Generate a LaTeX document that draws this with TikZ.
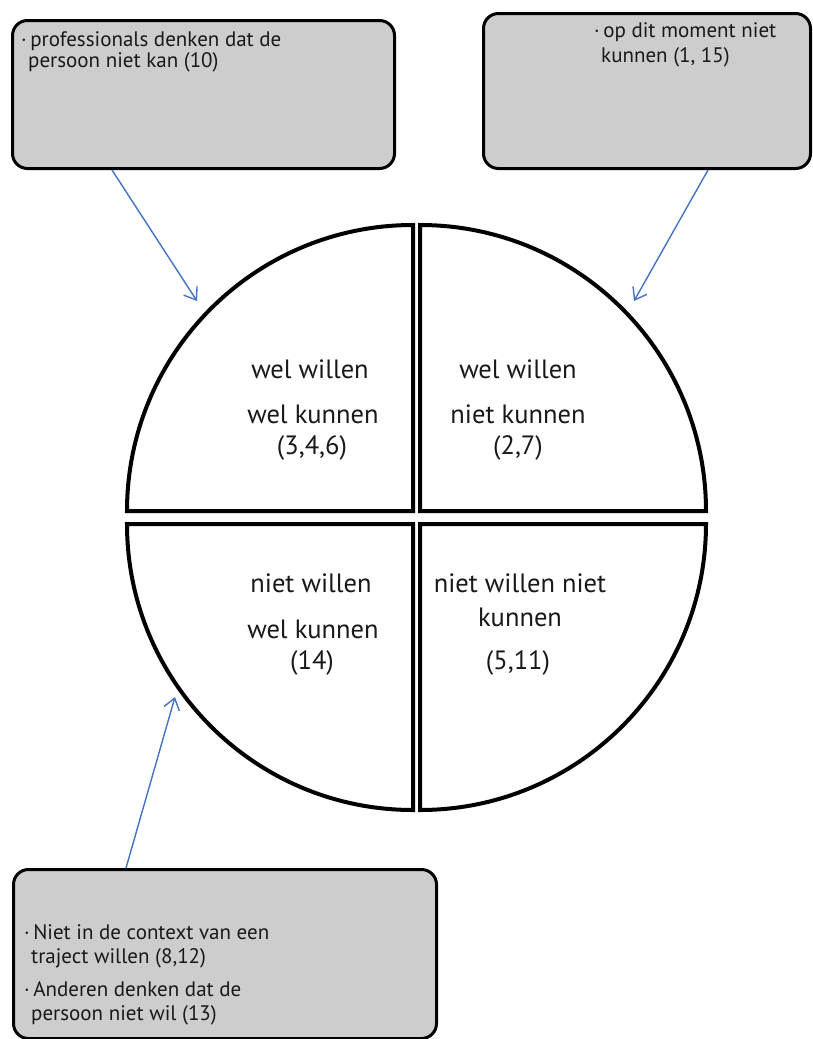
\documentclass[tikz,border=0pt]{standalone}
\usepackage{fontspec}
\setmainfont{PT Sans}
\usetikzlibrary{arrows.meta,calc}
\definecolor{boxgray}{RGB}{205,205,205}
\definecolor{arrowblue}{RGB}{68,114,196}
\tikzset{
  infobox/.style={draw=black, line width=3pt, fill=boxgray, rounded corners=15pt, anchor=north west, inner sep=0pt},
  quad/.style={draw=black, line width=4pt, fill=white, line join=miter},
  qtext/.style={anchor=base, inner sep=0pt, font=\fontsize{26.5}{30}\selectfont, text=black!90},
  btext/.style={anchor=base west, inner sep=0pt, font=\fontsize{21}{24}\selectfont, text=black!90},
  pointer/.style={draw=arrowblue, line width=1.4pt, -{Straight Barb[length=11pt,width=16pt,line width=1.4pt]}},
}
\begin{document}
\begin{tikzpicture}[x=1pt,y=-1pt]
\useasboundingbox (0,0) rectangle (812,1039);
\fill[white] (0,0) rectangle (812,1039);
% info boxes
\node[infobox, minimum width=382pt, minimum height=148pt] (tl) at (11,19) {};
\node[infobox, minimum width=327pt, minimum height=155pt] (tr) at (482,12) {};
\node[infobox, minimum width=423pt, minimum height=169pt] (bl) at (12,868) {};
% box texts
\node[btext] (tla) at (21,46) {·\,professionals denken dat de};
\node[btext] (tlb) at (28,67) {persoon niet kan (10)};
\node[btext] (tra) at (594,37) {·\,op dit moment niet};
\node[btext] (trb) at (601,62) {kunnen (1, 15)};
\node[btext] (bla) at (24,939) {·\,Niet in de context van een};
\node[btext] (blb) at (31,963) {traject willen (8,12)};
\node[btext] (blc) at (24,996) {·\,Anderen denken dat de};
\node[btext] (bld) at (31,1020) {persoon niet wil (13)};
% quadrants
\draw[quad] (127,511) arc[start angle=180, end angle=270, radius=286] -- (413,511) -- cycle;
\draw[quad] (420,225) arc[start angle=270, end angle=360, radius=286] -- (420,511) -- cycle;
\draw[quad] (127,524) arc[start angle=180, end angle=90, radius=286] -- (413,524) -- cycle;
\draw[quad] (706,524) arc[start angle=0, end angle=90, radius=286] -- (420,524) -- cycle;
% quadrant texts
\node[qtext] (q1a) at (310,378) {wel willen};
\node[qtext] (q1b) at (313,423) {wel kunnen};
\node[qtext] (q1c) at (312,454) {(3,4,6)};
\node[qtext] (q2a) at (518,378) {wel willen};
\node[qtext] (q2b) at (518,423) {niet kunnen};
\node[qtext] (q2c) at (518,454) {(2,7)};
\node[qtext] (q3a) at (311,592) {niet willen};
\node[qtext] (q3b) at (313,638) {wel kunnen};
\node[qtext] (q3c) at (312,669) {(14)};
\node[qtext] (q4a) at (520,592) {niet willen niet};
\node[qtext] (q4b) at (520,626) {kunnen};
\node[qtext] (q4c) at (518,669) {(5,11)};
% arrow targets
\coordinate (t1) at (197,301);
\coordinate (t2) at (634,301);
\coordinate (t3) at (175,697);
\draw[pointer] ([xshift=101pt]tl.south west) -- (t1);
\draw[pointer] ([xshift=226pt]tr.south west) -- (t2);
\draw[pointer] ([xshift=114pt]bl.north west) -- (t3);
\end{tikzpicture}
\end{document}
